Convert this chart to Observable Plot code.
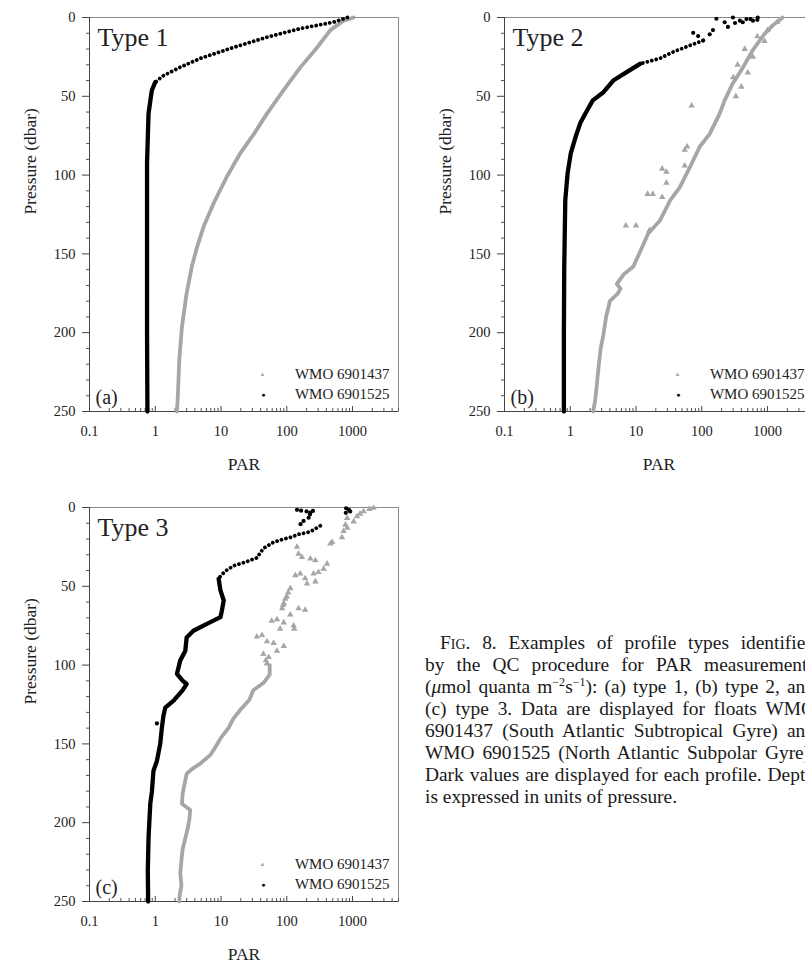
<!DOCTYPE html>
<html>
<head>
<meta charset="utf-8">
<script src="https://cdn.jsdelivr.net/npm/d3@7"></script>
<script src="https://cdn.jsdelivr.net/npm/@observablehq/plot@0.6"></script>
<style>
  html, body { margin: 0; padding: 0; background: #fff; }
  body { width: 805px; height: 963px; overflow: hidden; position: relative; font-family: "Liberation Serif", "Times New Roman", serif; }
  .panel { position: absolute; width: 420px; height: 480px; }
  .panel svg { max-width: none !important; width: 420px; height: 480px; display: block; }
  .panel svg, .panel svg text { font-family: "Liberation Serif", "Times New Roman", serif !important; }
  #caption { position: absolute; left: 425px; top: 632px; width: 390px; font-size: 19.4px; line-height: 22px; color: #1a1a1a; }
  #caption div { text-align: justify; text-align-last: justify; }
  #caption div.last { text-align-last: left; }
  #caption sup { font-size: 0.62em; line-height: 0; }
  .sc { font-variant: small-caps; }
</style>
</head>
<body>
<div id="pa" class="panel" style="left:0px;top:0px"></div>
<div id="pb" class="panel" style="left:415px;top:0px"></div>
<div id="pc" class="panel" style="left:0px;top:490px"></div>
<div id="caption">
  <div style="text-indent:15px">F<span class="sc">ig</span>. 8. Examples of profile types identified</div>
  <div>by the QC procedure for PAR measurements</div>
  <div>(<i>μ</i>mol quanta m<sup>−2</sup>s<sup>−1</sup>): (a) type 1, (b) type 2, and</div>
  <div>(c) type 3. Data are displayed for floats WMO</div>
  <div>6901437 (South Atlantic Subtropical Gyre) and</div>
  <div>WMO 6901525 (North Atlantic Subpolar Gyre).</div>
  <div>Dark values are displayed for each profile. Depth</div>
  <div class="last">is expressed in units of pressure.</div>
</div>
<script>
// ---------- axes ----------
const xDomain = [0.1, 5000];
const yDomain = [0, 250];
const xTicks = [0.1, 1, 10, 100, 1000];
const xMinorTicks = [0.2,0.3,0.4,0.5,0.6,0.7,0.8,0.9, 2,3,4,5,6,7,8,9, 20,30,40,50,60,70,80,90, 200,300,400,500,600,700,800,900, 2000,3000,4000,5000];
const yTicks = [0, 50, 100, 150, 200, 250];
const yMinorTicks = [10,20,30,40, 60,70,80,90, 110,120,130,140, 160,170,180,190, 210,220,230,240];
const legendNames = ["WMO 6901437", "WMO 6901525"];

// ---------- Panel (a) Type 1 ----------
const aGrayP   = [0, 2, 8, 19, 31.5, 46, 61, 74, 86, 101, 118, 133, 146, 158, 175, 196, 217, 243, 250];
const aGrayPAR = [1040, 735, 460, 290, 162, 90, 50, 31.5, 19.7, 12.3, 7.7, 5.4, 4.3, 3.6, 3.0, 2.55, 2.32, 2.19, 2.13];
const aBlackTopP   = [0, 3, 7, 12.5, 19, 26, 31.5, 37, 41];
const aBlackTopPAR = [835, 510, 162, 50, 15.5, 4.8, 2.4, 1.32, 1.0];
const aBlackP   = [41, 46, 50, 61, 92, 137, 200, 250];
const aBlackPAR = [1.0, 0.89, 0.86, 0.79, 0.75, 0.75, 0.75, 0.76];

// ---------- Panel (b) Type 2 ----------
const bGrayP   = [0, 5, 10.4, 21, 31.5, 42, 52.6, 61, 73.8, 82, 95, 108, 116, 129, 137, 147, 158, 163, 169, 172, 175, 180, 190, 201, 210, 222, 232, 243, 250];
const bGrayPAR = [1700, 1200, 900, 590, 425, 295, 223, 187, 132, 93, 66, 46, 33, 23, 15.3, 12, 9.1, 6.5, 5.1, 5.8, 5.3, 4.0, 3.5, 3.2, 2.9, 2.69, 2.55, 2.39, 2.23];
const bGrayScatterP   = [3, 8, 12, 15, 20, 25, 30, 35, 38, 44, 50, 56, 82, 84, 94, 96, 98, 105, 112, 112, 114, 132, 132, 135];
const bGrayScatterPAR = [1400, 1000, 700, 900, 450, 600, 350, 500, 300, 400, 330, 70, 60, 55, 55, 25, 29, 29, 15, 18, 25, 7, 10, 16];
const bBlackTopP   = [14.6, 17.7, 22, 26, 29.4];
const bBlackTopPAR = [105, 66, 36, 23, 11.5];
const bBlackP   = [29.4, 34.7, 40, 47.4, 52.6, 59, 67, 76, 86, 99, 116, 158, 200, 250];
const bBlackPAR = [11.5, 7.2, 4.5, 3.2, 2.2, 1.8, 1.42, 1.2, 1.02, 0.91, 0.84, 0.81, 0.80, 0.80];
const bBlackScatterP   = [0, 0, 0.8, 1, 1, 1.5, 2, 2, 3, 3, 3.5, 6, 8, 9.7, 10.7, 11.8, 14.6];
const bBlackScatterPAR = [710, 298, 167, 478, 550, 700, 380, 600, 223, 420, 320, 250, 148, 74, 132, 88, 105];

// ---------- Panel (c) Type 3 ----------
const cGrayP   = [100, 106, 111, 116, 122, 128, 134, 140, 146, 151, 157, 162, 166, 169, 175, 182, 188, 192, 198, 204, 210, 217, 224, 232, 240, 246, 250];
const cGrayPAR = [55, 55, 45, 31, 27, 20, 15.4, 13, 10, 8.5, 6.9, 5, 3.6, 3.0, 2.8, 2.6, 2.55, 3.4, 3.3, 3.1, 2.86, 2.6, 2.5, 2.4, 2.5, 2.35, 2.32];
const cGrayScatterP   = [0.3, 1, 2.5, 4, 5.7, 6.8, 8.9, 11, 13, 15, 19, 22, 23, 25, 29.4, 31.5, 32.5, 33.6, 35.7, 38.9, 41, 42, 42, 43, 45, 47, 48.3, 51.3, 54, 56.6, 58, 60.8, 62, 64, 64, 65, 68, 71, 72, 73, 75, 77, 77, 81, 82, 85, 86, 88, 91, 93, 95, 97, 99];
const cGrayScatterPAR = [2090, 1800, 1470, 1300, 1170, 825, 1040, 780, 830, 730, 690, 490, 460, 143, 151, 170, 228, 272, 410, 363, 303, 256, 160, 135, 190, 272, 203, 113, 105, 100, 95, 90, 88, 85, 151, 190, 113, 71, 59, 90, 127, 130, 79, 42, 35, 50, 63, 90, 71, 44, 53, 48, 50];
const cBlackTopP   = [11.6, 14.8, 15.9, 17, 19, 20, 22, 26, 32, 35, 37, 40, 43, 45.3];
const cBlackTopPAR = [323, 240, 203, 151, 113, 90, 63, 44, 35, 22, 15.5, 12, 10, 9.2];
const cBlackP   = [45.3, 52.6, 59, 65.5, 69.6, 73.8, 78.2, 82.5, 91, 97, 105.5, 109.8, 112, 116, 122.6, 127, 132.3, 139.7, 150, 160.8, 167, 180, 188, 209.7, 230.7, 250];
const cBlackPAR = [9.2, 9.8, 11, 10.3, 9.8, 6.1, 3.8, 3.0, 2.86, 2.4, 2.14, 2.6, 3.0, 2.6, 1.9, 1.42, 1.33, 1.26, 1.19, 1.06, 0.94, 0.89, 0.84, 0.79, 0.77, 0.78];
const cBlackScatterP   = [0.5, 1.5, 2.5, 3.4, 1.5, 2, 2.5, 3.3, 2.2, 4.5, 6.5, 8.5, 10.6, 137];
const cBlackScatterPAR = [800, 880, 920, 790, 143, 165, 200, 228, 250, 225, 215, 180, 162, 1.06];

// ---------- helpers ----------
const GRAY = "#a6a6a6";
const FONT = "Liberation Serif, Times New Roman, serif";
const rows = (p, v) => p.map((d, i) => ({p: d, par: v[i]}));

function panel(el, typeLabel, letter, s) {
  const W = 420, H = 480, ML = 89, MT = 17, MR = 22, MB = 69;
  const innerH = H - MT - MB;
  const chart = Plot.plot({
    width: W, height: H,
    marginLeft: ML, marginTop: MT, marginRight: MR, marginBottom: MB,
    x: {type: "log", domain: xDomain},
    y: {domain: yDomain, reverse: true},
    style: {fontFamily: FONT, fontSize: "14.5px", color: "#222", background: "#fff"},
    marks: [
      Plot.frame({stroke: "#8a8a8a"}),
      Plot.ruleX([xDomain[0]], {stroke: "#444"}),
      Plot.ruleY([yDomain[1]], {stroke: "#444"}),
      Plot.ruleX(xMinorTicks, {insetTop: innerH - 3, stroke: "#555"}),
      Plot.ruleX(xTicks, {insetTop: innerH - 5, stroke: "#444"}),
      Plot.axisX({ticks: xTicks, tickFormat: d => String(d), tickSize: 0, tickPadding: 14, label: null, fontSize: 14.5, fontFamily: FONT}),
      Plot.axisY({ticks: yTicks, tickSize: 7, tickPadding: 7, label: null, stroke: "#444", fontSize: 14.5, fontFamily: FONT}),
      Plot.axisY({ticks: yMinorTicks, tickSize: 3, tickFormat: () => "", label: null, stroke: "#555"}),
      // gray float
      Plot.line(s.gray, {x: "par", y: "p", stroke: GRAY, strokeWidth: 3.8, strokeLinejoin: "round"}),
      Plot.dot(s.grayScatter, {x: "par", y: "p", symbol: "triangle", r: 2.4, fill: GRAY}),
      // black float
      Plot.line(s.blackTop, {x: "par", y: "p", stroke: "#000", strokeWidth: 3.8, strokeDasharray: "0.01 4.6", strokeLinecap: "round"}),
      Plot.line(s.black, {x: "par", y: "p", stroke: "#000", strokeWidth: 4.3, strokeLinejoin: "round", strokeLinecap: "round"}),
      Plot.dot(s.blackScatter, {x: "par", y: "p", r: 2.1, fill: "#000"}),
      // labels
      Plot.text([typeLabel], {frameAnchor: "top-left", dx: 8, dy: 10, lineAnchor: "top", textAnchor: "start", fontSize: 26, fill: "#222", fontFamily: FONT}),
      Plot.text([letter], {frameAnchor: "bottom-left", dx: 6, dy: -14, lineAnchor: "middle", textAnchor: "start", fontSize: 20, fill: "#222", fontFamily: FONT}),
      Plot.text(["PAR"], {frameAnchor: "bottom", dy: 53, lineAnchor: "middle", fontSize: 17.5, fill: "#222", fontFamily: FONT}),
      Plot.text(["Pressure (dbar)"], {frameAnchor: "left", dx: -59, rotate: -90, lineAnchor: "middle", fontSize: 17.5, fill: "#222", fontFamily: FONT}),
      // legend
      Plot.text(["▲"], {frameAnchor: "bottom-right", dx: -133, dy: -37, lineAnchor: "middle", fontSize: 6, fill: GRAY}),
      Plot.text(["●"], {frameAnchor: "bottom-right", dx: -133, dy: -17, lineAnchor: "middle", fontSize: 7, fill: "#000"}),
      Plot.text([legendNames[0]], {frameAnchor: "bottom-right", dx: -9, dy: -37, lineAnchor: "middle", textAnchor: "end", fontSize: 15, fill: "#222", fontFamily: FONT}),
      Plot.text([legendNames[1]], {frameAnchor: "bottom-right", dx: -9, dy: -17, lineAnchor: "middle", textAnchor: "end", fontSize: 15, fill: "#222", fontFamily: FONT})
    ]
  });
  document.getElementById(el).appendChild(chart);
}

panel("pa", "Type 1", "(a)", {
  gray: rows(aGrayP, aGrayPAR), grayScatter: [],
  blackTop: rows(aBlackTopP, aBlackTopPAR), black: rows(aBlackP, aBlackPAR), blackScatter: []
});
panel("pb", "Type 2", "(b)", {
  gray: rows(bGrayP, bGrayPAR), grayScatter: rows(bGrayScatterP, bGrayScatterPAR),
  blackTop: rows(bBlackTopP, bBlackTopPAR), black: rows(bBlackP, bBlackPAR), blackScatter: rows(bBlackScatterP, bBlackScatterPAR)
});
panel("pc", "Type 3", "(c)", {
  gray: rows(cGrayP, cGrayPAR), grayScatter: rows(cGrayScatterP, cGrayScatterPAR),
  blackTop: rows(cBlackTopP, cBlackTopPAR), black: rows(cBlackP, cBlackPAR), blackScatter: rows(cBlackScatterP, cBlackScatterPAR)
});
</script>
</body>
</html>
